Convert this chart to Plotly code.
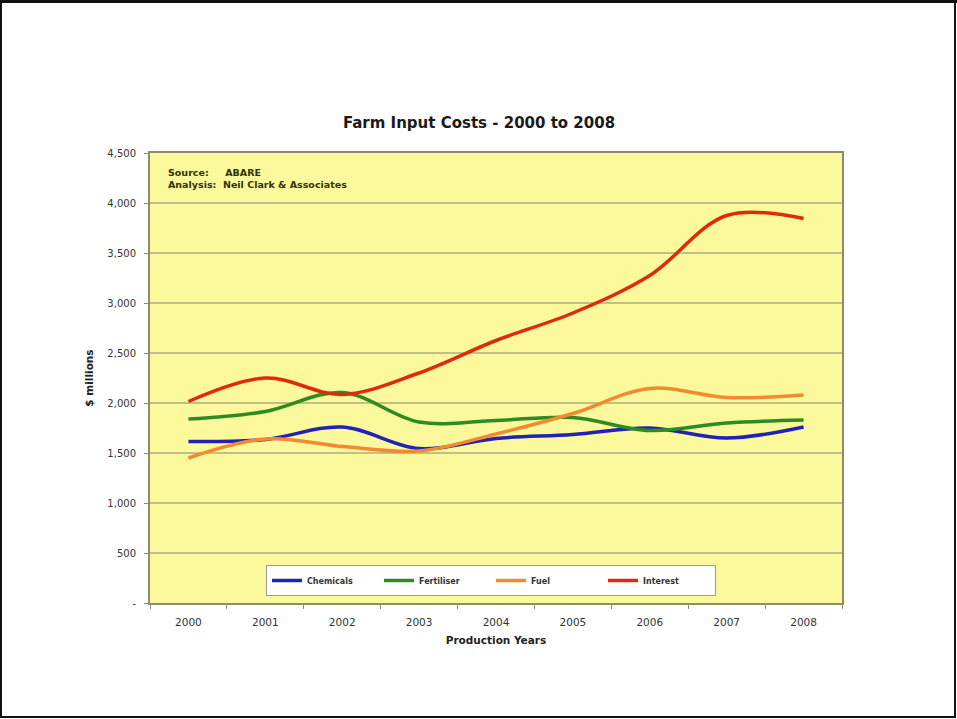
import plotly.graph_objects as go

years = ["2000", "2001", "2002", "2003", "2004", "2005", "2006", "2007", "2008"]
chemicals = [1615, 1635, 1760, 1545, 1645, 1685, 1750, 1650, 1760]
fertiliser = [1840, 1915, 2105, 1810, 1825, 1855, 1725, 1800, 1830]
fuel = [1450, 1640, 1565, 1520, 1690, 1895, 2145, 2055, 2080]
interest = [2015, 2250, 2085, 2300, 2625, 2900, 3275, 3875, 3845]

series = [
    ("Chemicals", chemicals, "#2222B4"),
    ("Fertiliser", fertiliser, "#2E8B22"),
    ("Fuel", fuel, "#F28A32"),
    ("Interest", interest, "#E02A10"),
]

tickvals = [0, 500, 1000, 1500, 2000, 2500, 3000, 3500, 4000, 4500]
ticktext = ["-", "500", "1,000", "1,500", "2,000", "2,500", "3,000", "3,500", "4,000", "4,500"]

FONT = "DejaVu Sans, Arial, sans-serif"

fig = go.Figure()
for name, vals, col in series:
    fig.add_trace(go.Scatter(
        x=years, y=vals, name="<b>" + name + "</b>", mode="lines",
        line=dict(color=col, width=3.5, shape="spline", smoothing=1.0),
    ))

L, R, T, B = 150, 115, 153, 116
W, H = 957, 719
pw, ph = W - L - R, H - T - B

def px(x):
    return (x - L) / pw

def py(y):
    return (H - B - y) / ph

fig.update_layout(
    width=W, height=H,
    margin=dict(l=L, r=R, t=T, b=B),
    paper_bgcolor="white",
    plot_bgcolor="#FCF89C",
    font=dict(family=FONT, color="#222222"),
    title=dict(text="<b>Farm Input Costs - 2000 to 2008</b>", xref="container", x=479 / W, xanchor="center",
               yref="container", y=1 - 123 / H, yanchor="middle", font=dict(size=15, color="#1a1a1a")),
    showlegend=True,
    legend=dict(
        orientation="h", x=px(266), y=py(565), xanchor="left", yanchor="top",
        bgcolor="white", bordercolor="#9A9A9A", borderwidth=1,
        font=dict(size=8, color="#333333", family=FONT),
        entrywidth=67, entrywidthmode="pixels",
        itemwidth=30, tracegroupgap=0,
    ),
    xaxis=dict(
        type="category", range=[-0.5, 8.5],
        showgrid=False, showline=True, linecolor="#8C8C70", linewidth=2, mirror=True,
        ticks="outside", ticklen=4, tickcolor="#8C8C70", tickson="boundaries",
        tickfont=dict(size=10.5, color="#333333"), ticklabelstandoff=8,
        title=dict(text="<b>Production Years</b>", font=dict(size=10.5, color="#222222"), standoff=10),
    ),
    yaxis=dict(
        range=[0, 4500], tickvals=tickvals, ticktext=ticktext,
        showgrid=True, gridcolor="#C2BE8A", gridwidth=2,
        showline=True, linecolor="#8C8C70", linewidth=2, mirror=True,
        ticks="outside", ticklen=4, tickcolor="#8C8C70",
        tickfont=dict(size=10, color="#333333"), ticklabelstandoff=6,
        zeroline=False,
        title=dict(text="<b>$ millions</b>", font=dict(size=10.5, color="#222222"), standoff=12),
    ),
    annotations=[
        dict(text="<b>Source:     ABARE</b><br><b>Analysis:  Neil Clark &amp; Associates</b>",
             xref="paper", yref="paper", x=px(166), y=py(165), xanchor="left", yanchor="top",
             align="left", showarrow=False, font=dict(size=9.5, color="#333300", family=FONT)),
    ],
    shapes=[
        dict(type="rect", xref="paper", yref="paper", x0=px(1), x1=px(W - 2), y0=py(H - 2), y1=py(2),
             line=dict(color="#111111", width=2), layer="above"),
        dict(type="line", xref="paper", yref="paper", x0=px(0), x1=px(W), y0=py(1.5), y1=py(1.5),
             line=dict(color="#111111", width=3), layer="above"),
    ],
)

fig.write_html("out.html")
